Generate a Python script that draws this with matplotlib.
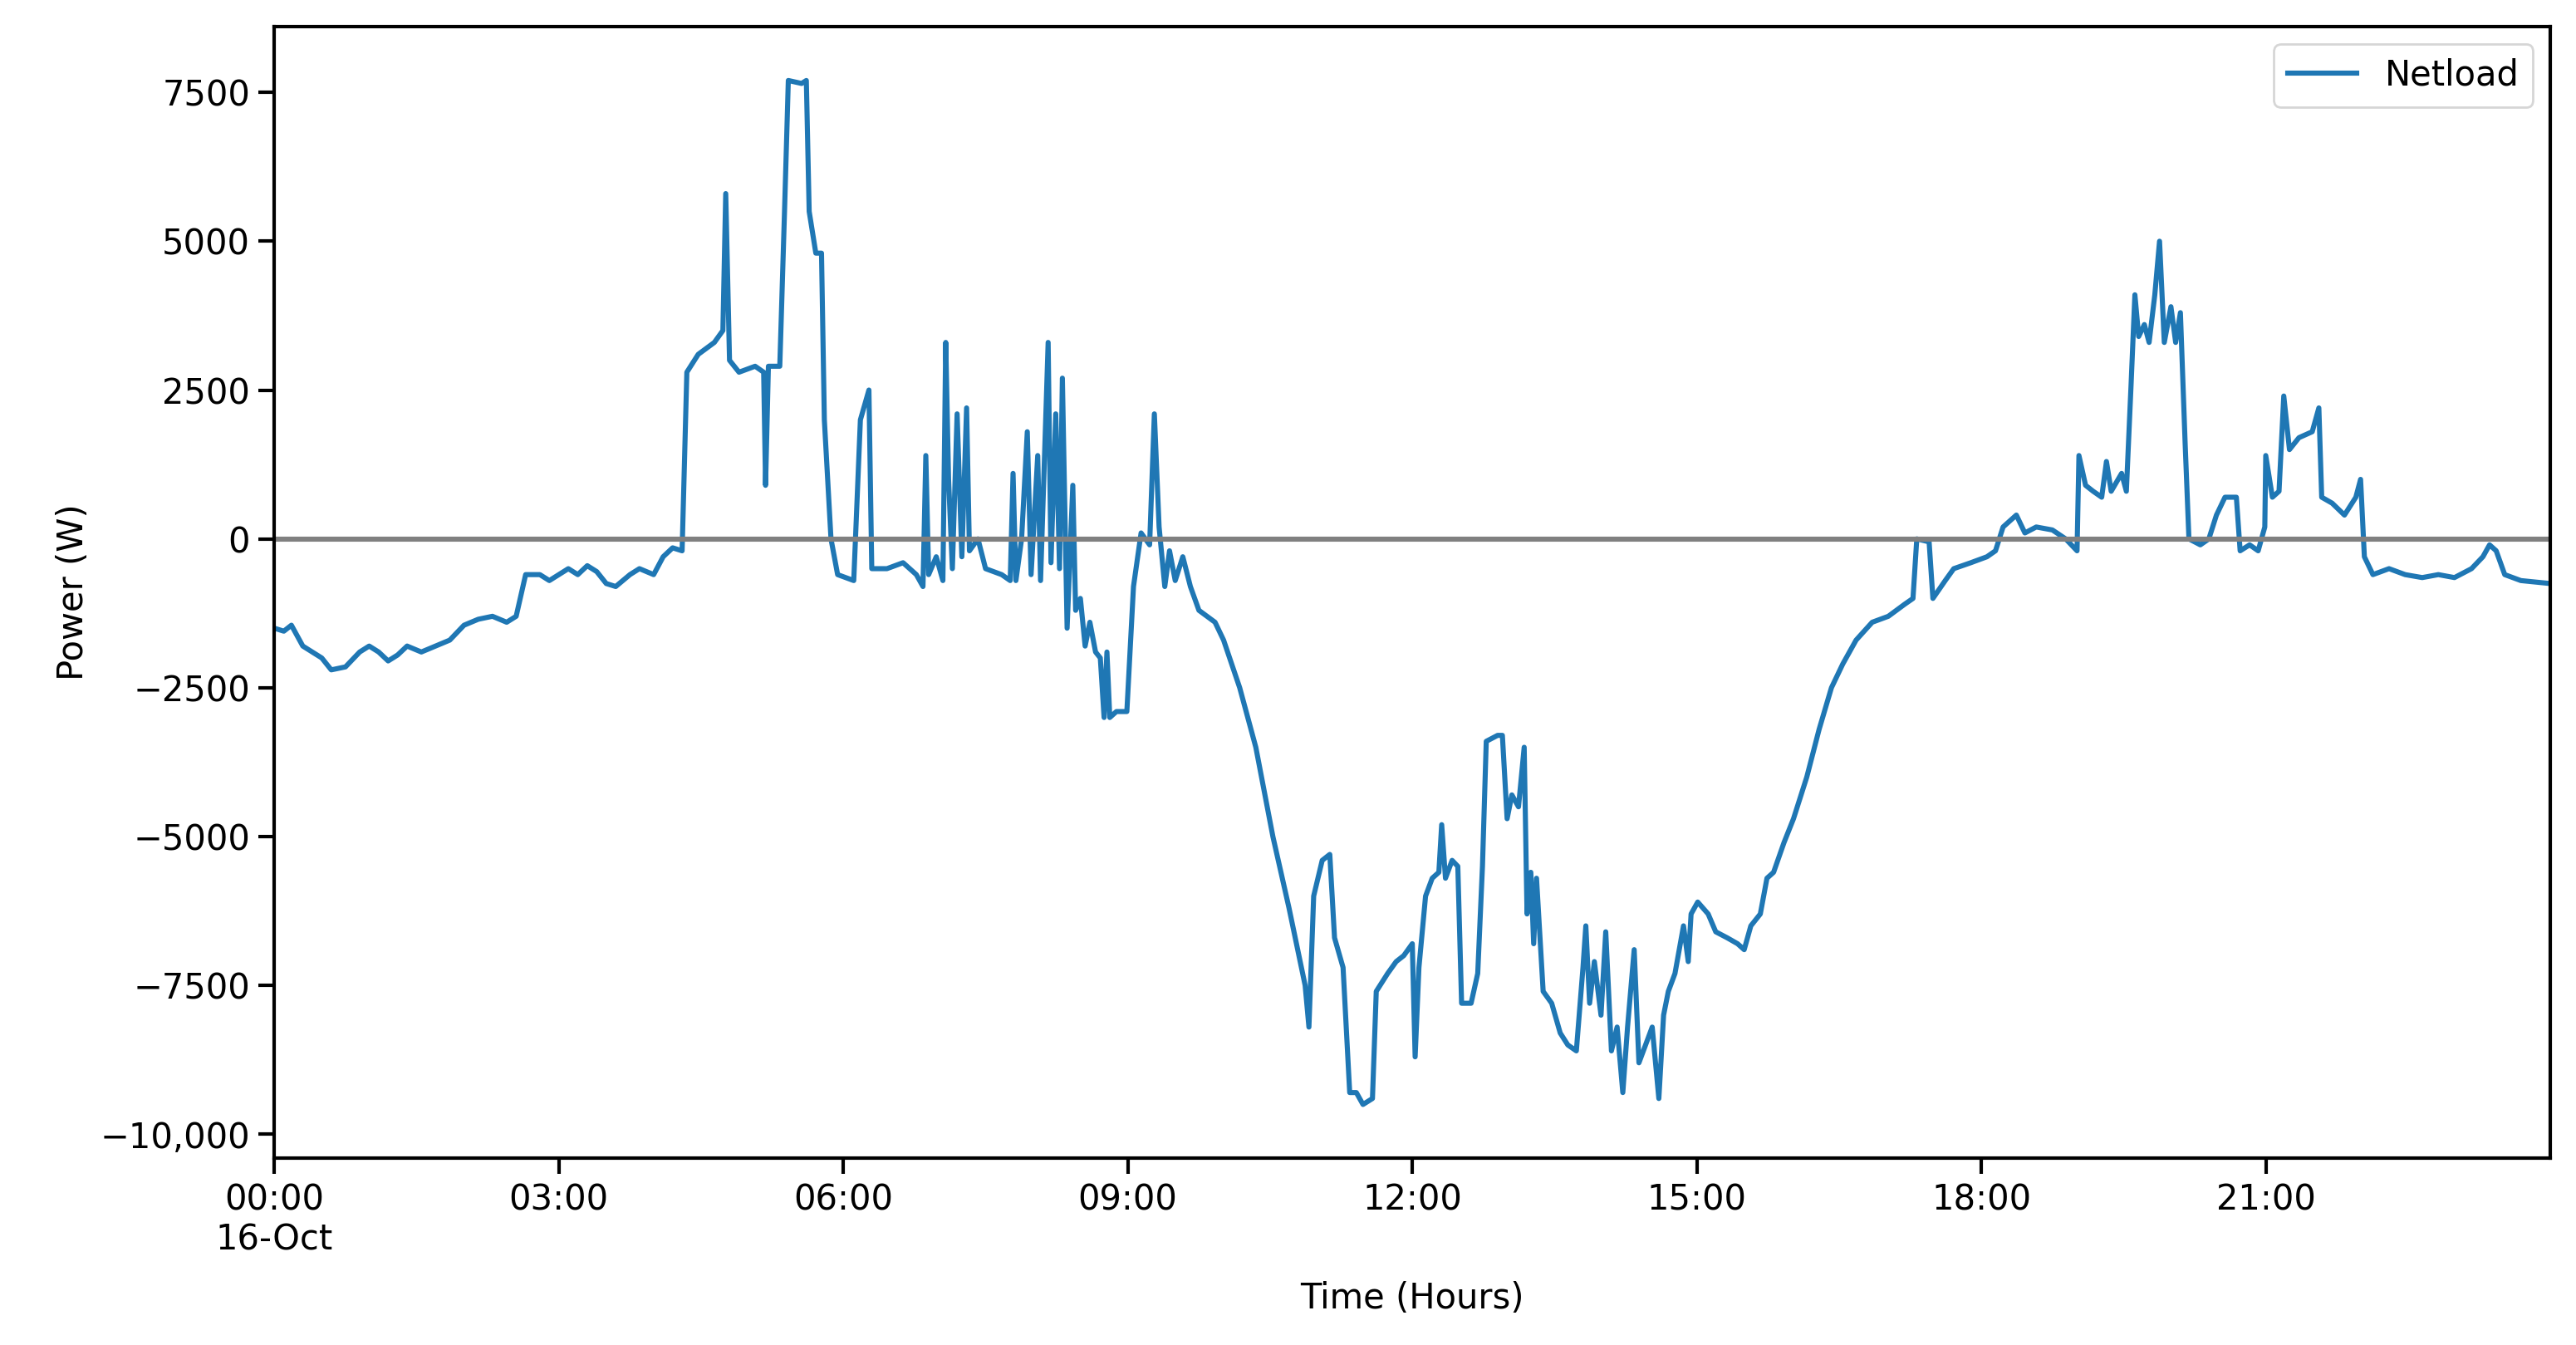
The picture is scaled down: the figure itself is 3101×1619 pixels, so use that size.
import matplotlib
matplotlib.use("Agg")
import matplotlib.pyplot as plt
import matplotlib.dates as mdates
import matplotlib.ticker as mticker
import pandas as pd

hours = [0.0,0.1,0.18,0.3,0.5,0.6,0.75,0.9,1.0,1.1,1.2,1.3,1.4,1.55,1.7,1.85,2.0,2.15,2.3,2.45,2.55,2.65,2.8,2.9,3.0,3.1,3.2,3.3,3.4,3.5,3.6,3.75,3.85,4.0,4.1,4.2,4.3,
4.35,4.47,4.64,4.73,4.76,4.8,4.9,5.07,5.16,5.18,5.21,5.33,5.38,5.42,5.56,5.61,5.64,5.71,5.77,5.8,5.87,5.94,6.11,6.18,6.27,6.3,6.46,6.63,6.77,6.84,6.87,6.9,6.98,7.05,7.08,7.11,7.15,7.2,7.25,7.3,7.33,7.42,7.5,7.67,7.76,7.79,7.82,7.88,7.94,7.98,8.05,8.08,8.16,8.19,8.24,8.28,8.31,8.36,8.42,8.45,8.5,8.55,8.6,8.66,8.71,8.75,8.78,8.81,8.88,8.99,9.06,9.14,9.23,9.28,9.33,9.39,9.44,9.5,9.58,9.66,9.75,9.92,10.01,10.18,10.35,10.53,10.7,10.87,10.91,10.96,11.05,11.13,11.18,11.27,11.34,11.41,11.48,11.58,11.62,11.74,11.83,11.91,12.0,12.03,12.07,12.14,12.21,12.28,12.31,12.35,12.42,12.48,12.52,12.62,12.69,12.74,12.78,12.9,12.95,13.0,13.05,13.12,13.18,13.21,13.25,13.28,13.31,13.38,13.47,13.56,13.64,13.73,13.8,13.83,13.87,13.92,13.99,14.04,14.1,14.16,14.22,14.27,14.34,14.39,14.46,14.53,14.6,14.65,14.7,14.77,14.86,14.91,14.94,15.01,15.12,15.2,15.32,15.43,15.5,15.57,15.67,15.74,15.81,15.92,16.02,16.16,16.29,16.42,16.54,16.68,16.85,17.02,17.19,17.28,17.32,17.45,17.49,17.62,17.71,17.89,18.06,18.15,18.23,18.37,18.46,18.58,18.75,18.89,19.01,19.03,19.1,19.18,19.27,19.32,19.37,19.48,19.53,19.58,19.62,19.66,19.72,19.77,19.83,19.88,19.93,20.0,20.05,20.1,20.15,20.19,20.31,20.4,20.48,20.57,20.69,20.73,20.83,20.92,20.99,21.0,21.07,21.14,21.19,21.25,21.35,21.49,21.56,21.59,21.7,21.83,21.95,22.0,22.04,22.13,22.3,22.47,22.65,22.82,22.99,23.17,23.29,23.36,23.43,23.52,23.69,24.0]
netload = [-1500,-1550,-1450,-1800,-2000,-2200,-2150,-1900,-1800,-1900,-2050,-1950,-1800,-1900,-1800,-1700,-1450,-1350,-1300,-1400,-1300,-600,-600,-700,-600,-500,-600,-450,-550,-750,-800,-600,-500,-600,-300,-150,-200,
2800,3100,3300,3500,5800,3000,2800,2900,2800,900,2900,2900,5500,7700,7650,7700,5500,4800,4800,2000,0,-600,-700,2000,2500,-500,-500,-400,-600,-800,1400,-600,-300,-700,3300,1000,-500,2100,-300,2200,-200,0,-500,-600,-700,1100,-700,0,1800,-600,1400,-700,3300,-400,2100,-500,2700,-1500,900,-1200,-1000,-1800,-1400,-1900,-2000,-3000,-1900,-3000,-2900,-2900,-800,100,-100,2100,200,-800,-200,-700,-300,-800,-1200,-1400,-1700,-2500,-3500,-5000,-6200,-7500,-8200,-6000,-5400,-5300,-6700,-7200,-9300,-9300,-9500,-9400,-7600,-7300,-7100,-7000,-6800,-8700,-7200,-6000,-5700,-5600,-4800,-5700,-5400,-5500,-7800,-7800,-7300,-5500,-3400,-3300,-3300,-4700,-4300,-4500,-3500,-6300,-5600,-6800,-5700,-7600,-7800,-8300,-8500,-8600,-7200,-6500,-7800,-7100,-8000,-6600,-8600,-8200,-9300,-8200,-6900,-8800,-8500,-8200,-9400,-8000,-7600,-7300,-6500,-7100,-6300,-6100,-6300,-6600,-6700,-6800,-6900,-6500,-6300,-5700,-5600,-5100,-4700,-4000,-3200,-2500,-2100,-1700,-1400,-1300,-1100,-1000,0,-50,-1000,-700,-500,-400,-300,-200,200,400,100,200,150,0,-200,1400,900,800,700,1300,800,1100,800,2600,4100,3400,3600,3300,4100,5000,3300,3900,3300,3800,1600,0,-100,0,400,700,700,-200,-100,-200,200,1400,700,800,2400,1500,1700,1800,2200,700,600,400,700,1000,-300,-600,-500,-600,-650,-600,-650,-500,-300,-100,-200,-600,-700,-750]

plt.rcParams['font.size'] = 15
start = pd.Timestamp("2023-10-16 00:00")
times = [start + pd.Timedelta(hours=h) for h in hours]

fig = plt.figure(figsize=(15.505, 8.095), dpi=200)
ax = fig.add_axes([0.1065, 0.139, 0.8835, 0.841])
ax.plot(times, netload, color="#1f77b4", lw=2.2, label="Netload")
ax.axhline(0, color="gray", lw=2.2)
ax.set_xlim(start, start + pd.Timedelta(hours=24))
ax.set_ylim(-10400, 8600)
ax.xaxis.set_major_locator(mticker.FixedLocator(
    [mdates.date2num(start + pd.Timedelta(hours=h)) for h in range(0, 24, 3)]))
def xfmt(x, pos):
    d = mdates.num2date(x)
    s = d.strftime("%H:%M")
    if pos == 0:
        s += "\n" + d.strftime("%d-%b")
    return s
ax.xaxis.set_major_formatter(mticker.FuncFormatter(xfmt))
ax.yaxis.set_major_locator(mticker.FixedLocator([-10000, -7500, -5000, -2500, 0, 2500, 5000, 7500]))
def yfmt(v, p):
    s = f"{v:,.0f}" if abs(v) >= 10000 else f"{v:.0f}"
    return s.replace("-", "\u2212")
ax.yaxis.set_major_formatter(mticker.FuncFormatter(yfmt))
ax.tick_params(width=1.5, length=7)
for sp in ax.spines.values():
    sp.set_linewidth(1.5)
ax.set_xlabel("Time (Hours)", labelpad=10)
ax.set_ylabel("Power (W)")
ax.legend(loc="upper right", fontsize=15)
fig.savefig("out.png", dpi=200)
